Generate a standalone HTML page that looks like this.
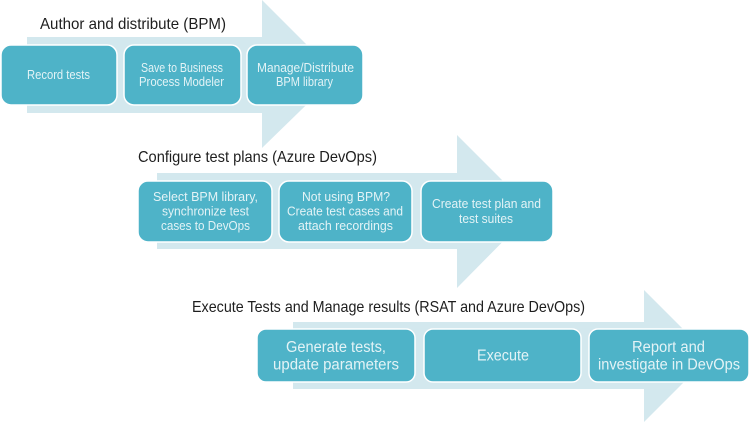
<!DOCTYPE html>
<html>
<head>
<meta charset="utf-8">
<style>
  html,body{margin:0;padding:0;background:#ffffff;}
  svg{display:block;}
  .t{font-family:"Liberation Sans",sans-serif;fill:#1e1e1e;font-size:16px;}
  .b{font-family:"Liberation Sans",sans-serif;fill:#e3f3f6;}
  .s1{font-size:12.5px;}
  .s2{font-size:13px;}
  .s3{font-size:15.5px;}
  .box{fill:#4eb3c8;stroke:#ffffff;stroke-width:1.5;}
  .arr{fill:#d3e8ee;}
</style>
</head>
<body>
<svg width="750" height="423" viewBox="0 0 750 423" xmlns="http://www.w3.org/2000/svg">
  <!-- Arrow 1 -->
  <rect class="arr" x="27" y="37" width="236" height="76"/>
  <polygon class="arr" points="262,0 337,75 262,148"/>
  <!-- Arrow 2 -->
  <rect class="arr" x="157" y="173" width="301" height="76"/>
  <polygon class="arr" points="457,135 533,211 457,288"/>
  <!-- Arrow 3 -->
  <rect class="arr" x="293" y="322" width="352" height="67"/>
  <polygon class="arr" points="644,290 710,356 644,422"/>

  <!-- Titles -->
  <text class="t" x="40" y="29" textLength="186" lengthAdjust="spacingAndGlyphs">Author and distribute (BPM)</text>
  <text class="t" x="138" y="162" textLength="239" lengthAdjust="spacingAndGlyphs">Configure test plans (Azure DevOps)</text>
  <text class="t" x="192" y="312" textLength="393" lengthAdjust="spacingAndGlyphs">Execute Tests and Manage results (RSAT and Azure DevOps)</text>

  <!-- Row 1 boxes -->
  <rect class="box" x="1" y="45" width="116" height="60" rx="10"/>
  <rect class="box" x="124" y="45" width="117" height="60" rx="10"/>
  <rect class="box" x="247" y="45" width="116" height="60" rx="10"/>
  <text class="b s1" x="27" y="79" textLength="63" lengthAdjust="spacingAndGlyphs">Record tests</text>
  <text class="b s1" x="141" y="72" textLength="82" lengthAdjust="spacingAndGlyphs">Save to Business</text>
  <text class="b s1" x="139" y="86" textLength="85" lengthAdjust="spacingAndGlyphs">Process Modeler</text>
  <text class="b s1" x="257" y="72" textLength="97" lengthAdjust="spacingAndGlyphs">Manage/Distribute</text>
  <text class="b s1" x="276" y="86" textLength="57" lengthAdjust="spacingAndGlyphs">BPM library</text>

  <!-- Row 2 boxes -->
  <rect class="box" x="138" y="181" width="134" height="61" rx="10"/>
  <rect class="box" x="279" y="181" width="133" height="61" rx="10"/>
  <rect class="box" x="421" y="181" width="132" height="61" rx="10"/>
  <text class="b s2" x="153" y="201" textLength="105" lengthAdjust="spacingAndGlyphs">Select BPM library,</text>
  <text class="b s2" x="162" y="215.5" textLength="87" lengthAdjust="spacingAndGlyphs">synchronize test</text>
  <text class="b s2" x="161" y="230" textLength="89" lengthAdjust="spacingAndGlyphs">cases to DevOps</text>
  <text class="b s2" x="302" y="201" textLength="88" lengthAdjust="spacingAndGlyphs">Not using BPM?</text>
  <text class="b s2" x="287" y="215.5" textLength="116" lengthAdjust="spacingAndGlyphs">Create test cases and</text>
  <text class="b s2" x="298" y="230" textLength="95" lengthAdjust="spacingAndGlyphs">attach recordings</text>
  <text class="b s2" x="432" y="208" textLength="109" lengthAdjust="spacingAndGlyphs">Create test plan and</text>
  <text class="b s2" x="459" y="223" textLength="54" lengthAdjust="spacingAndGlyphs">test suites</text>

  <!-- Row 3 boxes -->
  <rect class="box" x="257" y="329" width="158" height="53" rx="9"/>
  <rect class="box" x="424" y="329" width="157" height="53" rx="9"/>
  <rect class="box" x="589" y="329" width="160" height="53" rx="9"/>
  <text class="b s3" x="286" y="352" textLength="100" lengthAdjust="spacingAndGlyphs">Generate tests,</text>
  <text class="b s3" x="273" y="369.5" textLength="126" lengthAdjust="spacingAndGlyphs">update parameters</text>
  <text class="b s3" x="477" y="360.5" textLength="52" lengthAdjust="spacingAndGlyphs">Execute</text>
  <text class="b s3" x="632" y="352" textLength="73" lengthAdjust="spacingAndGlyphs">Report and</text>
  <text class="b s3" x="598" y="369.5" textLength="142" lengthAdjust="spacingAndGlyphs">investigate in DevOps</text>
</svg>
</body>
</html>
